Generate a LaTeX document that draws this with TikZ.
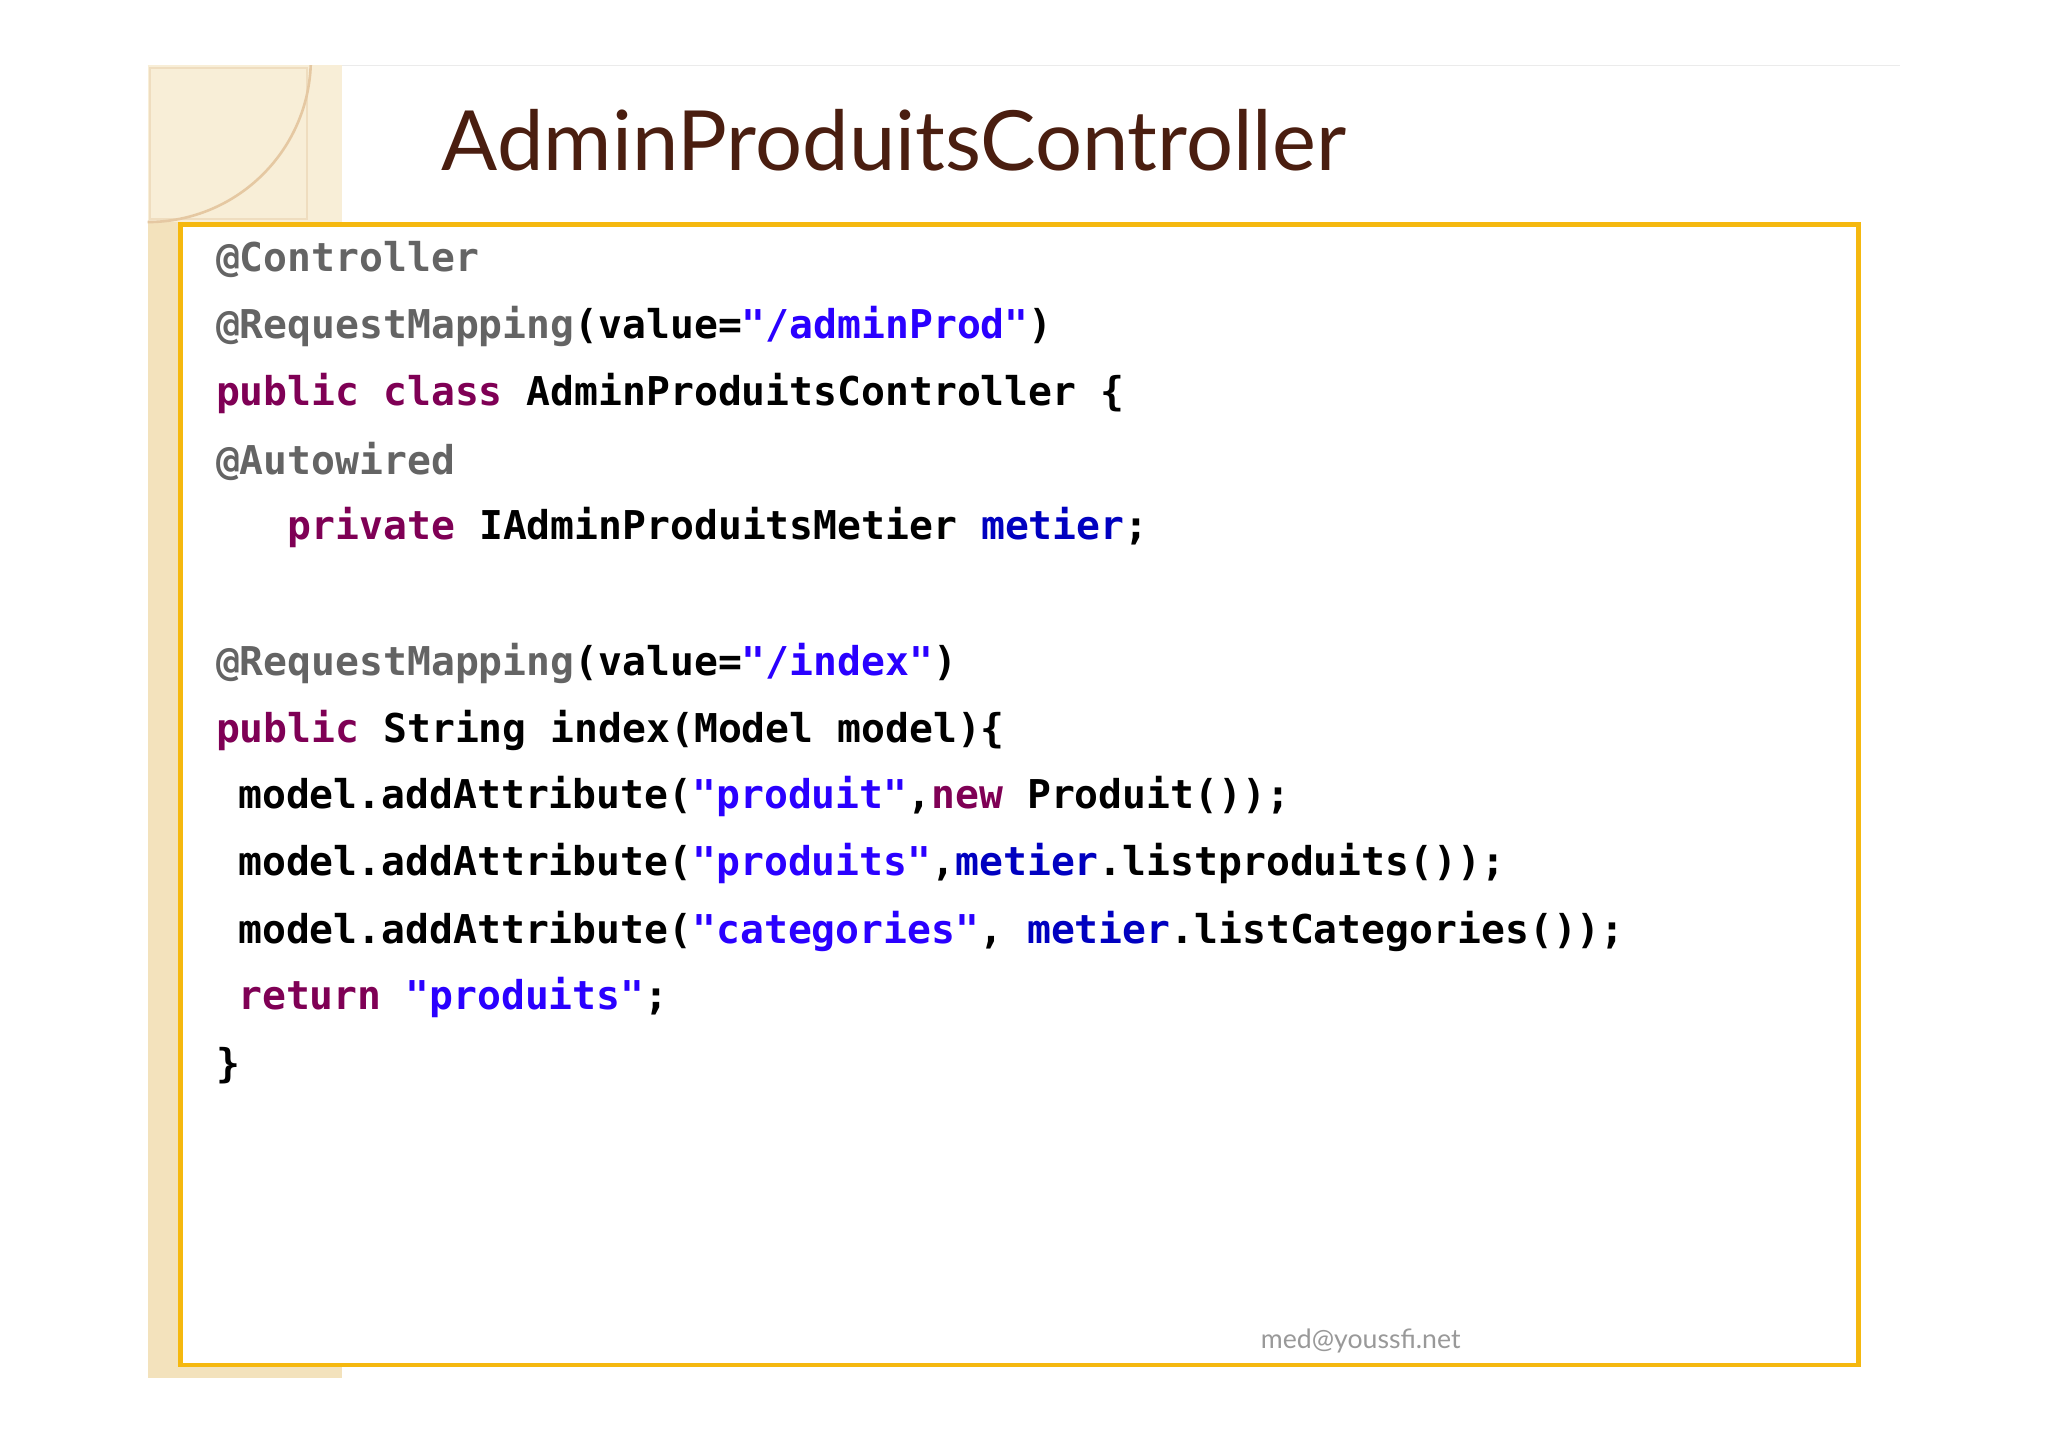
\documentclass[tikz,border=0pt]{standalone}
\usepackage{fontspec}
\setmainfont{Lato}
\setmonofont{DejaVu Sans Mono}
\definecolor{ann}{HTML}{646464}
\definecolor{kw}{HTML}{7F0055}
\definecolor{str}{HTML}{2A00FF}
\definecolor{fld}{HTML}{0000C0}
\definecolor{beige}{HTML}{F3E2BC}
\definecolor{boxc}{HTML}{F5B80F}
\definecolor{titc}{HTML}{4A1E10}
\newcommand{\A}[1]{\textcolor{ann}{#1}}
\newcommand{\K}[1]{\textcolor{kw}{#1}}
\newcommand{\St}[1]{\textcolor{str}{#1}}
\newcommand{\F}[1]{\textcolor{fld}{#1}}
\begin{document}
\begin{tikzpicture}[x=0.5bp,y=-0.5bp,
  code/.style={anchor=west,inner sep=0,font=\ttfamily\bfseries\fontsize{15.2bp}{18bp}\selectfont}]
\useasboundingbox (0,0) rectangle (1568,1108);
\fill[white] (0,0) rectangle (1568,1108);
\draw[black!8] (113,50) -- (1455,50);
\fill[beige] (113,50) rectangle (262,1055);
\fill[beige!60] (113,50) rectangle (262,170);
\draw[beige!80!brown!70,line width=0.8pt] (115,52) rectangle (235,168);
\begin{scope}
\clip (113,50) rectangle (262,172);
\draw[beige!60!brown!80,line width=1pt] (113,45) circle[radius=125];
\end{scope}
\fill[white] (138,172) rectangle (1423,1045);
\draw[boxc,line width=1.8bp] (138,172) rectangle (1423,1045);
\node[anchor=west,inner sep=0,text=titc,font=\fontsize{31.8bp}{36bp}\selectfont] (title) at (338,107) {AdminProduitsController};
\node[code] (l1) at (165,199) {\A{@Controller}};
\node[code] (l2) at (165,250) {\A{@RequestMapping}(value=\St{"/adminProd"})};
\node[code] (l3) at (165,301) {\K{public class} AdminProduitsController \{};
\node[code] (l4) at (165,353) {\A{@Autowired}};
\node[code] (l5) at (220,404) {\K{private} IAdminProduitsMetier \F{metier};};
\node[code] (l6) at (165,508) {\A{@RequestMapping}(value=\St{"/index"})};
\node[code] (l7) at (165,559) {\K{public} String index(Model model)\{};
\node[code] (l8) at (182,610) {model.addAttribute(\St{"produit"},\K{new} Produit());};
\node[code] (l9) at (182,661) {model.addAttribute(\St{"produits"},\F{metier}.listproduits());};
\node[code] (l10) at (182,713) {model.addAttribute(\St{"categories"}, \F{metier}.listCategories());};
\node[code] (l11) at (182,764) {\K{return} \St{"produits"};};
\node[code] (l12) at (165,816) {\}};
\node[anchor=west,inner sep=0,text=gray!80,font=\fontsize{10.2bp}{12bp}\selectfont] (foot) at (965,1027) {med@youssfi.net};
\end{tikzpicture}
\end{document}
